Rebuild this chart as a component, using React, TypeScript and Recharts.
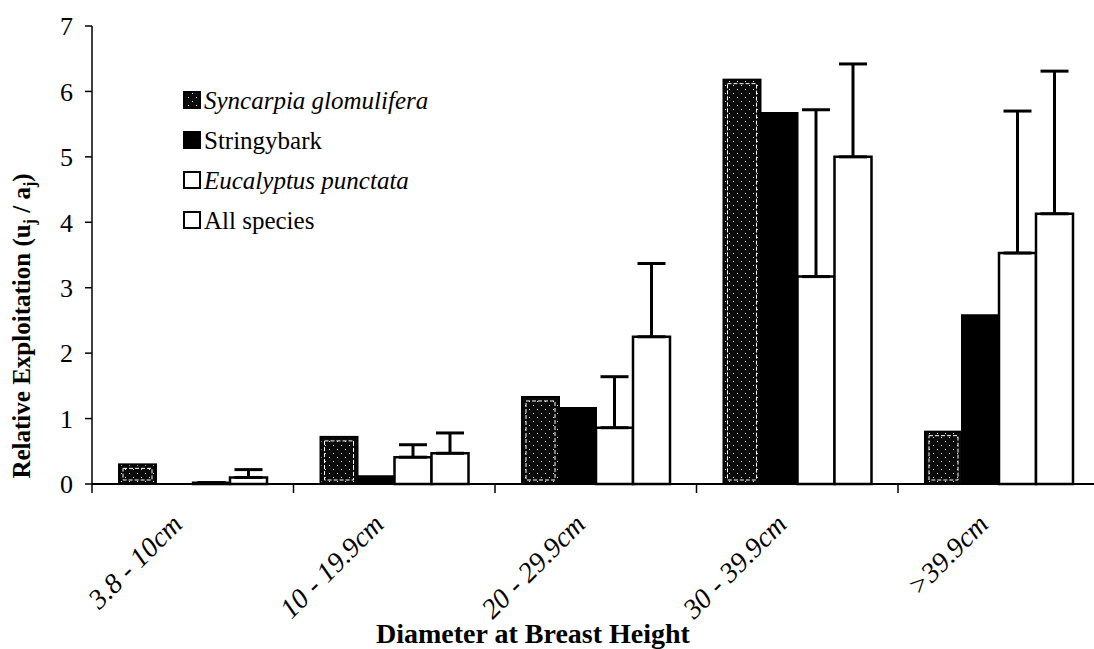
import { BarChart, Bar, XAxis, YAxis, ErrorBar } from "recharts"

const categories = ["3.8 - 10cm", "10 - 19.9cm", "20 - 29.9cm", "30 - 39.9cm", ">39.9cm"]
const syncarpia = [0.3, 0.72, 1.33, 6.18, 0.8]
const stringybark = [0, 0.12, 1.16, 5.67, 2.58]
const eucalyptus = [0.02, 0.41, 0.86, 3.17, 3.53]
const eucalyptusErr = [0, 0.19, 0.78, 2.55, 2.17]
const allSpecies = [0.1, 0.47, 2.25, 5.0, 4.13]
const allSpeciesErr = [0.12, 0.31, 1.12, 1.42, 2.18]
const yTicks = [0, 1, 2, 3, 4, 5, 6, 7]

const legendItems = [
  { name: "Syncarpia glomulifera", fill: "url(#stipple)", italic: true },
  { name: "Stringybark", fill: "#000", italic: false },
  { name: "Eucalyptus punctata", fill: "#fff", italic: true },
  { name: "All species", fill: "#fff", italic: false },
]

const data = categories.map((name, i) => ({
  name,
  syncarpia: syncarpia[i],
  stringybark: stringybark[i],
  eucalyptus: eucalyptus[i],
  eucalyptusErr: [0, eucalyptusErr[i]],
  allSpecies: allSpecies[i],
  allSpeciesErr: [0, allSpeciesErr[i]],
}))

const FONT = "'Liberation Serif', 'Times New Roman', serif"

// category labels, plus the tick marks at the category boundaries
function CategoryTick(props: any) {
  const { x, y, payload, index, visibleTicksCount } = props
  const half = payload.offset || 0
  const isLast = index === visibleTicksCount - 1
  return (
    <g>
      <line x1={x - half} x2={x - half} y1={y} y2={y + 9} stroke="#000" strokeWidth={1.5} />
      {isLast && <line x1={x + half} x2={x + half} y1={y} y2={y + 9} stroke="#000" strokeWidth={1.5} />}
      <g transform={`translate(${x - 9},${y + 42}) rotate(-45)`}>
        <text
          textAnchor="end"
          style={{ fontFamily: FONT, fontStyle: "italic", fontSize: 28 }}
          fill="#000"
        >
          {payload.value}
        </text>
      </g>
    </g>
  )
}

// stippled bar with the thin white inner outline of the original
function StippleBar(props: any) {
  const { x, y, width, height } = props
  if (!height || height <= 0) return null
  return (
    <g>
      <rect x={x} y={y} width={width} height={height} fill="url(#stipple)" stroke="#000" strokeWidth={2} />
      {height > 10 && (
        <rect
          x={x + 4}
          y={y + 4}
          width={width - 8}
          height={height - 8}
          fill="none"
          stroke="#fff"
          strokeWidth={1}
          strokeDasharray="4 2"
        />
      )}
    </g>
  )
}

function Titles() {
  return (
    <g>
      <defs>
        <pattern id="stipple" width="8" height="8" patternUnits="userSpaceOnUse">
          <rect width="8" height="8" fill="#0a0a0a" />
          <rect x="1" y="1" width="1" height="1" fill="#fff" />
          <rect x="5" y="5" width="1" height="1" fill="#ddd" />
        </pattern>
      </defs>
      <text
        transform="translate(30,326) rotate(-90)"
        textAnchor="middle"
        style={{ fontFamily: FONT, fontWeight: "bold", fontSize: 25 }}
        fill="#000"
      >
        Relative Exploitation (u
        <tspan style={{ fontSize: 16 }} dy={5}>j</tspan>
        <tspan dy={-5}> / a</tspan>
        <tspan style={{ fontSize: 16 }} dy={5}>j</tspan>
        <tspan dy={-5}>)</tspan>
      </text>
      <text
        x={533}
        y={643}
        textAnchor="middle"
        style={{ fontFamily: FONT, fontWeight: "bold", fontSize: 28 }}
        fill="#000"
      >
        Diameter at Breast Height
      </text>
      {legendItems.map((item, i) => (
        <g key={item.name} transform={`translate(183,${100 + i * 40})`}>
          <rect x={1} y={-8} width={16} height={16} fill={item.fill} stroke="#000" strokeWidth={2} />
          <text
            x={21}
            y={9}
            style={{
              fontFamily: FONT,
              fontStyle: item.italic ? "italic" : "normal",
              fontSize: 25,
            }}
            fill="#000"
          >
            {item.name}
          </text>
        </g>
      ))}
    </g>
  )
}

export default function App() {
  return (
    <div
      style={{
        position: "fixed",
        left: 0,
        top: 0,
        width: 1094,
        height: 649,
        overflow: "hidden",
        background: "#fff",
      }}
    >
      <BarChart
        width={1130}
        height={649}
        data={data}
        margin={{ top: 26, right: 30.5, left: 0, bottom: 45 }}
        barGap={0}
        barSize={37}
      >
        <XAxis
          dataKey="name"
          height={120}
          interval={0}
          axisLine={{ stroke: "#000", strokeWidth: 2 }}
          tickLine={false}
          tickSize={0}
          tickMargin={0}
          tick={<CategoryTick />}
        />
        <YAxis
          width={92}
          domain={[0, 7]}
          ticks={yTicks}
          interval={0}
          tickSize={7}
          tickMargin={12}
          axisLine={{ stroke: "#000", strokeWidth: 1.5 }}
          tickLine={{ stroke: "#000", strokeWidth: 1.5 }}
          tick={{ fontFamily: FONT, fontSize: 26, fill: "#000" }}
        />
        <Bar dataKey="syncarpia" fill="url(#stipple)" shape={<StippleBar />} isAnimationActive={false} />
        <Bar dataKey="stringybark" fill="#000" stroke="#000" strokeWidth={2} isAnimationActive={false} />
        <Bar dataKey="eucalyptus" fill="#fff" stroke="#000" strokeWidth={2.5} isAnimationActive={false}>
          <ErrorBar dataKey="eucalyptusErr" direction="y" width={14} stroke="#000" strokeWidth={3} />
        </Bar>
        <Bar dataKey="allSpecies" fill="#fff" stroke="#000" strokeWidth={2.5} isAnimationActive={false}>
          <ErrorBar dataKey="allSpeciesErr" direction="y" width={14} stroke="#000" strokeWidth={3} />
        </Bar>
        <Titles />
      </BarChart>
    </div>
  )
}
